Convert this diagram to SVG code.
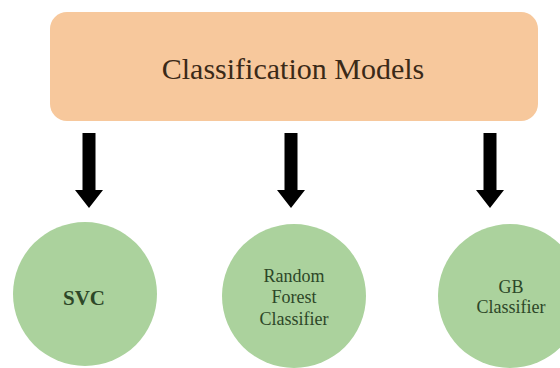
<svg xmlns="http://www.w3.org/2000/svg" width="560" height="368" viewBox="0 0 560 368">
  <style>
    .root-box { fill: #f7c89c; }
    .leaf { fill: #abd29d; }
    text { font-family: 'Liberation Serif', 'Times New Roman', 'DejaVu Serif', serif; text-anchor: middle; }
    .title { font-size: 30px; fill: #3b2a18; }
    .label { font-size: 18px; fill: #2d4728; }
    .label-lg { font-size: 21px; font-weight: bold; }
    .arrow { fill: #000; }
  </style>
  <defs>
    <!-- thick block arrow pointing down, origin at the shaft top centre -->
    <path id="down-arrow" d="M -6.5 0 H 6.5 V 57 H 14 L 0 75 L -14 57 H -6.5 Z"/>
  </defs>
  <rect width="560" height="368" fill="#ffffff"/>

  <g id="classification-models">
    <rect class="root-box" x="50" y="12" width="488" height="109" rx="17"/>
    <text class="title" x="293" y="79" font-family="Liberation Serif, serif">Classification Models</text>
  </g>

  <g id="connectors" class="arrow">
    <use href="#down-arrow" x="89" y="133"/>
    <use href="#down-arrow" x="291" y="133"/>
    <use href="#down-arrow" x="490" y="133"/>
  </g>

  <g id="svc">
    <circle class="leaf" cx="85" cy="294" r="72"/>
    <text class="label label-lg" x="84" y="305">SVC</text>
  </g>

  <g id="random-forest">
    <circle class="leaf" cx="294" cy="296" r="72"/>
    <text class="label" x="294" y="282">Random</text>
    <text class="label" x="294" y="303">Forest</text>
    <text class="label" x="294" y="325">Classifier</text>
  </g>

  <g id="gb-classifier">
    <circle class="leaf" cx="510" cy="296" r="72"/>
    <text class="label" x="511" y="293">GB</text>
    <text class="label" x="511" y="313">Classifier</text>
  </g>
</svg>
